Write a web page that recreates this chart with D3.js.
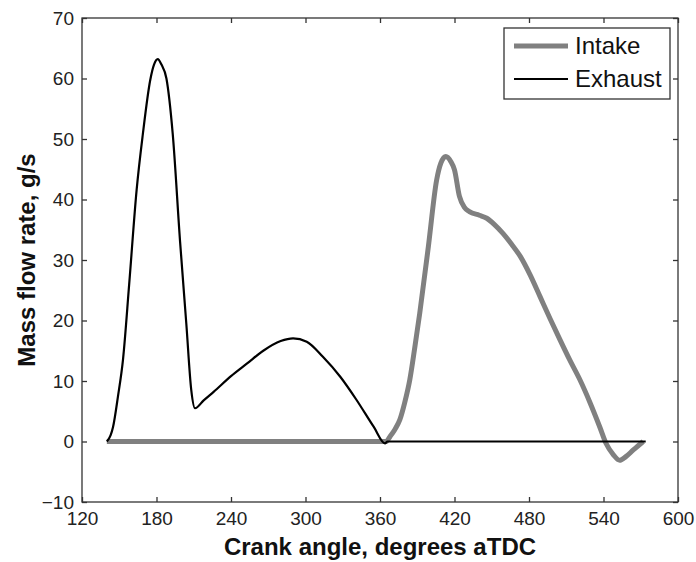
<!DOCTYPE html>
<html>
<head>
<meta charset="utf-8">
<script src="https://cdn.jsdelivr.net/npm/d3@7"></script>
<style>
  body { margin: 0; background: #fff; }
  svg { font-family: Arial, "Liberation Sans", sans-serif; }
</style>
</head>
<body>
<svg id="chart" width="696" height="562"></svg>
<script>
// crank angle (deg aTDC) / mass flow (g/s)
const exhaustAngle = [140, 143, 145, 149, 153, 158, 164, 169, 175, 178, 181, 184, 188, 193, 199, 204, 208, 211,
    218, 226, 240, 253, 266, 280, 290, 301, 314, 328, 341, 355, 364, 366, 574];
const exhaustFlow = [0, 1.0, 2.4, 7.5, 13.5, 26, 41.6, 50.8, 59.8, 62.3, 63.2, 62.3, 60, 51, 33, 19.5, 8.5, 5.5,
    6.8, 8.2, 10.8, 12.9, 15.0, 16.6, 17.05, 16.5, 14, 10.7, 6.9, 2.4, -0.3, 0, 0];

const intakeAngle = [140, 365, 368, 372, 376, 380, 384, 388, 392, 399, 405.6, 409, 413, 417, 420, 424, 428, 432,
    440, 446, 452, 459, 466, 473, 481, 489, 497, 505, 513, 521, 529, 537, 542, 548, 553, 558, 564, 572];
const intakeFlow = [0, 0, 0.8, 2, 3.6, 6.5, 10.2, 15.5, 21.2, 32.3, 43.2, 46, 47.1, 46.3, 44.9, 40.5, 38.7, 38,
    37.4, 36.9, 35.9, 34.4, 32.6, 30.6, 27.5, 23.9, 20.3, 16.8, 13.4, 10.2, 6.5, 2.4, -0.3, -2.2, -3.1, -2.5, -1.4, 0];

const xTicks = [120, 180, 240, 300, 360, 420, 480, 540, 600];
const yTicks = [-10, 0, 10, 20, 30, 40, 50, 60, 70];
const seriesNames = ["Intake", "Exhaust"];

const svg = d3.select("#chart");
const plotLeft = 82, plotRight = 678, plotTop = 18, plotBottom = 502;

const x = d3.scaleLinear().domain([120, 600]).range([plotLeft, plotRight]);
const y = d3.scaleLinear().domain([-10, 70]).range([plotBottom, plotTop]);

const axisColor = "#333";
const tickLen = 5;

// axes box
svg.append("rect")
    .attr("x", plotLeft).attr("y", plotTop)
    .attr("width", plotRight - plotLeft).attr("height", plotBottom - plotTop)
    .attr("fill", "none")
    .attr("stroke", axisColor)
    .attr("stroke-width", 1.3);

// ticks on all four sides, pointing inward
const xAxisB = svg.append("g").attr("transform", `translate(0,${plotBottom})`)
    .call(d3.axisBottom(x).tickValues(xTicks).tickSize(-tickLen).tickPadding(10));
const xAxisT = svg.append("g").attr("transform", `translate(0,${plotTop})`)
    .call(d3.axisTop(x).tickValues(xTicks).tickSize(-tickLen).tickFormat(""));
const yAxisL = svg.append("g").attr("transform", `translate(${plotLeft},0)`)
    .call(d3.axisLeft(y).tickValues(yTicks).tickSize(-tickLen).tickPadding(8));
const yAxisR = svg.append("g").attr("transform", `translate(${plotRight},0)`)
    .call(d3.axisRight(y).tickValues(yTicks).tickSize(-tickLen).tickFormat(""));

[xAxisB, xAxisT, yAxisL, yAxisR].forEach(function (g) {
    g.select(".domain").remove();
    g.selectAll(".tick line").attr("stroke", axisColor).attr("stroke-width", 1.3);
    g.selectAll(".tick text")
        .attr("fill", "#222")
        .style("font-size", "19px");
});
xAxisB.selectAll(".tick text").attr("dy", "0.71em");

// series
const line = d3.line()
    .x(d => x(d[0]))
    .y(d => y(d[1]))
    .curve(d3.curveMonotoneX);

const intake = intakeAngle.map((a, i) => [a, intakeFlow[i]]);
const exhaust = exhaustAngle.map((a, i) => [a, exhaustFlow[i]]);

svg.append("path")
    .datum(intake)
    .attr("d", line)
    .attr("fill", "none")
    .attr("stroke", "#808080")
    .attr("stroke-width", 5)
    .attr("stroke-linejoin", "round");

svg.append("path")
    .datum(exhaust)
    .attr("d", line)
    .attr("fill", "none")
    .attr("stroke", "#000")
    .attr("stroke-width", 2.2)
    .attr("stroke-linejoin", "round");

// axis titles
svg.append("text")
    .attr("x", (plotLeft + plotRight) / 2)
    .attr("y", 555)
    .attr("text-anchor", "middle")
    .style("font-size", "24px")
    .style("font-weight", "bold")
    .attr("fill", "#111")
    .text("Crank angle, degrees aTDC");

svg.append("text")
    .attr("transform", `translate(35,${(plotTop + plotBottom) / 2}) rotate(-90)`)
    .attr("text-anchor", "middle")
    .style("font-size", "24px")
    .style("font-weight", "bold")
    .attr("fill", "#111")
    .text("Mass flow rate, g/s");

// legend
const legend = svg.append("g");
legend.append("rect")
    .attr("x", 504).attr("y", 28)
    .attr("width", 166).attr("height", 71)
    .attr("fill", "#fff")
    .attr("stroke", axisColor)
    .attr("stroke-width", 1.3);

const legendStyle = [
    { color: "#808080", width: 5 },
    { color: "#000", width: 2.2 }
];
seriesNames.forEach(function (name, i) {
    const ly = 46 + i * 33;
    legend.append("line")
        .attr("x1", 514).attr("x2", 568)
        .attr("y1", ly).attr("y2", ly)
        .attr("stroke", legendStyle[i].color)
        .attr("stroke-width", legendStyle[i].width);
    legend.append("text")
        .attr("x", 575).attr("y", ly)
        .attr("dy", "0.35em")
        .style("font-size", "24px")
        .attr("fill", "#111")
        .text(name);
});
</script>
</body>
</html>
